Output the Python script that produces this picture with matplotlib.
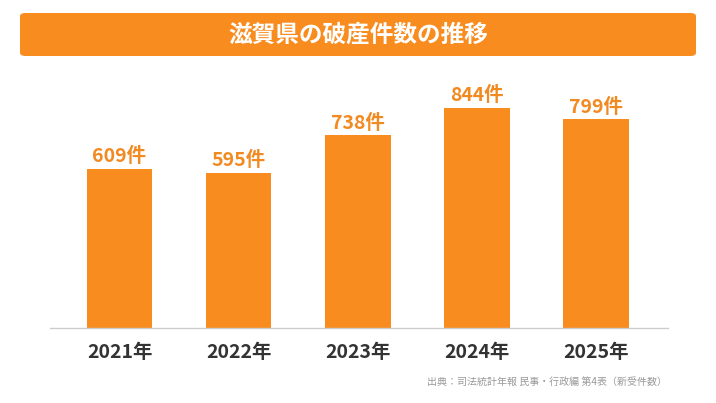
import matplotlib.pyplot as plt
from matplotlib.patches import FancyBboxPatch

plt.rcParams['font.family'] = ['Noto Sans CJK JP', 'DejaVu Sans']

years = ['2021年', '2022年', '2023年', '2024年', '2025年']
counts = [609, 595, 738, 844, 799]
title = '滋賀県の破産件数の推移'
source = '出典：司法統計年報 民事・行政編 第4表（新受件数）'

orange = '#F98C1F'

fig = plt.figure(figsize=(7.16, 4.03), dpi=100)
W, H = 716, 403

# title banner
banner = FancyBboxPatch((20 / W, 1 - 56 / H), 676 / W, 43 / H,
                        boxstyle='round,pad=0,rounding_size=0.008',
                        transform=fig.transFigure, facecolor=orange,
                        edgecolor='none')
fig.patches.append(banner)
fig.text(0.5, 1 - 35 / H, title, ha='center', va='center',
         color='white', fontsize=17, fontweight='bold')

ax = fig.add_axes([50 / W, 1 - 328 / H, 618 / W, 261 / H])
x = list(range(len(years)))
bars = ax.bar(x, counts, width=0.55, color=orange)
ax.set_xlim(-0.584, 4.605)
ax.set_ylim(0, 1000)

for b, v in zip(bars, counts):
    ax.annotate(f'{v}件', (b.get_x() + b.get_width() / 2, v),
                xytext=(0, 2), textcoords='offset points',
                ha='center', va='bottom', color='#F28A22',
                fontsize=14, fontweight='bold')

ax.set_xticks(x)
ax.set_xticklabels(years, fontsize=14, fontweight='bold', color='#333333')
ax.tick_params(axis='x', length=0, pad=11)
ax.set_yticks([])
for s in ['top', 'right', 'left']:
    ax.spines[s].set_visible(False)
ax.spines['bottom'].set_color('#cccccc')
ax.spines['bottom'].set_linewidth(1)

fig.text(667 / W, 1 - 382 / H, source, ha='right', va='center',
         color='#999999', fontsize=7.2)

fig.savefig('out.png', dpi=100)
